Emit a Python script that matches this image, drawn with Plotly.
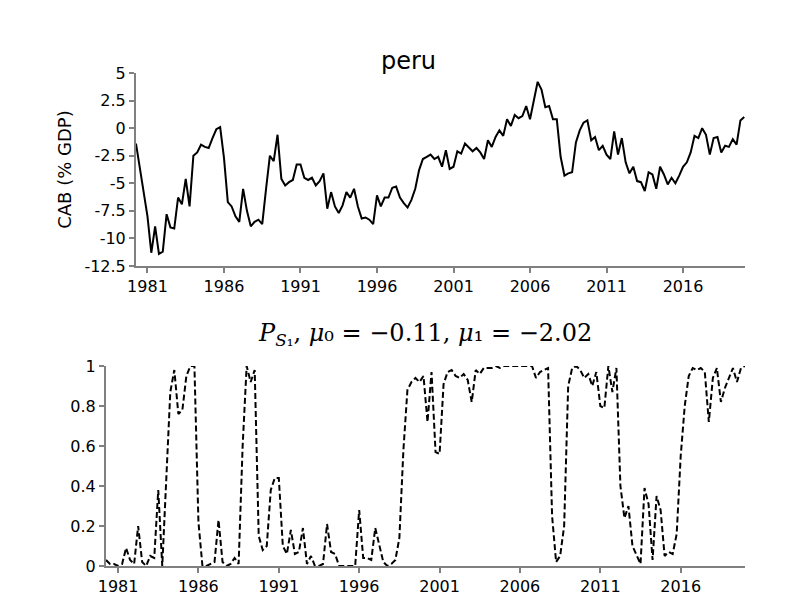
import plotly.graph_objects as go

# quarterly, 1980Q2 .. 2020Q1
start_year = 1980.25
cab = [-1.4, -3.5, -5.5, -8, -11.3, -8.9, -11.4, -11.2, -7.8, -9,
       -9.1, -6.3, -6.9, -4.6, -7.1, -2.5, -2.2, -1.5, -1.7, -1.8,
       -0.9, -0.1, 0.1, -2.7, -6.7, -7.1, -8.0, -8.5, -5.5, -7.5,
       -8.9, -8.5, -8.3, -8.7, -5.5, -2.5, -3.0, -0.6, -4.6, -5.2,
       -4.9, -4.7, -3.3, -3.3, -4.5, -4.7, -4.5, -5.2, -4.8, -4.1,
       -7.3, -5.8, -7.1, -7.7, -7.0, -5.8, -6.3, -5.5, -7.1, -8.2,
       -8.1, -8.3, -8.7, -6.1, -7.1, -6.3, -6.3, -5.4, -5.3, -6.3,
       -6.8, -7.2, -6.5, -5.5, -3.8, -2.8, -2.6, -2.4, -2.8,
       -2.6, -3.5, -2.0, -3.7, -3.5, -2.1, -2.3, -1.4, -1.8, -2.1,
       -1.8, -2.2, -2.8, -1.1, -1.7, -0.8, -0.2, -0.7, 0.8, 0.2,
       1.2, 0.9, 1.1, 2.0, 0.8, 2.4, 4.2, 3.5, 1.9, 2.0,
       0.8, 0.8, -2.6, -4.3, -4.1, -4.0, -1.3, -0.2, 0.5, 0.7,
       -1.1, -0.8, -2.0, -1.6, -2.4, -2.8, -0.3, -2.4, -0.9, -3.1,
       -4.1, -3.5, -4.8, -4.9, -5.7, -4.0, -4.2, -5.5, -3.5, -4.2,
       -5.1, -4.5, -5.0, -4.3, -3.5, -3.1, -2.2, -0.7, -0.9, 0.0,
       -0.6, -2.4, -0.9, -0.8, -2.2, -1.6, -1.7, -1.0, -1.5, 0.7, 1.0]
prob_s1 = [0.03, 0.01, 0.01, 0.0, 0.01, 0.09, 0.03, 0.01, 0.2, 0.02,
           0.0, 0.05, 0.04, 0.38, 0.0, 0.4, 0.87, 0.98, 0.76, 0.78,
           0.95, 1.0, 1.0, 0.22, 0.0, 0.0, 0.01, 0.02, 0.23, 0.02,
           0.0, 0.01, 0.04, 0.01, 0.6, 1.0, 0.92, 0.98, 0.15, 0.08,
           0.1, 0.38, 0.44, 0.44, 0.1, 0.06, 0.18, 0.06, 0.07, 0.19,
           0.01, 0.05, 0.0, 0.0, 0.01, 0.21, 0.07, 0.06, 0.0, 0.0,
           0.0, 0.0, 0.0, 0.28, 0.04, 0.04, 0.03, 0.19, 0.11, 0.02,
           0.0, 0.01, 0.03, 0.14, 0.58, 0.88, 0.92, 0.94, 0.92, 0.95,
           0.72, 0.97, 0.57, 0.56, 0.91, 0.97, 0.98, 0.95, 0.94, 0.96,
           0.93, 0.82, 0.98, 0.96, 0.99, 0.99, 0.99, 1.0, 0.99, 1.0,
           1.0, 1.0, 1.0, 1.0, 1.0, 1.0, 1.0, 0.94, 0.97, 0.98,
           0.99, 0.25, 0.02, 0.05, 0.2, 0.9, 0.99, 1.0, 0.98, 0.94,
           0.96, 0.9, 0.97, 0.8, 0.79, 1.0, 0.87, 0.99, 0.4, 0.24,
           0.3, 0.1, 0.05, 0.01, 0.39, 0.31, 0.03, 0.35, 0.28, 0.05,
           0.07, 0.06, 0.16, 0.55, 0.8, 0.95, 0.99, 0.98, 0.99, 0.97,
           0.72, 0.94, 0.99, 0.82, 0.89, 0.94, 0.99, 0.92, 0.99, 1.0]
tick_years = [1981, 1986, 1991, 1996, 2001, 2006, 2011, 2016]
cab_ticks = [5, 2.5, 0, -2.5, -5, -7.5, -10, -12.5]
prob_ticks = [0, 0.2, 0.4, 0.6, 0.8, 1]

t_cab = [start_year + 0.25 * i for i in range(len(cab))]
t_prob = [start_year + 0.25 * i for i in range(len(prob_s1))]

W, H = 800, 600
fig = go.Figure()
fig.add_trace(go.Scatter(x=t_cab, y=cab, mode='lines', line=dict(color='black', width=2),
                         xaxis='x', yaxis='y'))
fig.add_trace(go.Scatter(x=t_prob, y=prob_s1, mode='lines',
                         line=dict(color='black', width=2, dash='6px,3px'),
                         xaxis='x2', yaxis='y2'))

ax = dict(showgrid=False, zeroline=False, showline=True, linecolor='#808080', linewidth=2,
          ticks='outside', tickcolor='#808080', ticklen=5, tickwidth=1.5, automargin=False,
          tickfont=dict(family='DejaVu Sans', size=16, color='black'))

fig.update_layout(
    width=W, height=H, margin=dict(l=0, r=0, t=0, b=0),
    plot_bgcolor='white', paper_bgcolor='white', showlegend=False,
    xaxis=dict(ax, domain=[128 / W, 737 / W], range=[start_year, 2020.05],
               tickvals=tick_years, anchor='y'),
    yaxis=dict(ax, domain=[1 - 258 / H, 1 - 65 / H], range=[-12.5, 5],
               tickvals=cab_ticks, ticktext=[f'{v:g}' for v in cab_ticks], anchor='x',
               title=dict(text='CAB (% GDP)', standoff=8,
                          font=dict(family='DejaVu Sans', size=18, color='black'))),
    xaxis2=dict(ax, domain=[98 / W, 737 / W], range=[start_year, 2020.0],
                tickvals=tick_years, anchor='y2'),
    yaxis2=dict(ax, domain=[1 - 558 / H, 1 - 358 / H], range=[0, 1],
                tickvals=prob_ticks, ticktext=[f'{v:g}' for v in prob_ticks], anchor='x2'),
    annotations=[
        dict(text='peru', x=400 / W, y=1 - 37 / H, xref='paper', yref='paper',
             showarrow=False, font=dict(family='DejaVu Sans', size=24, color='black')),
        dict(text='<i>P</i><sub><i>S</i>₁</sub>, <i>μ</i>₀ = −0.11, <i>μ</i>₁ = −2.02',
             x=417 / W, y=1 - 326 / H, xref='paper', yref='paper', showarrow=False,
             font=dict(family='DejaVu Serif', size=24, color='black')),
    ],
)

fig.write_html("out.html")
